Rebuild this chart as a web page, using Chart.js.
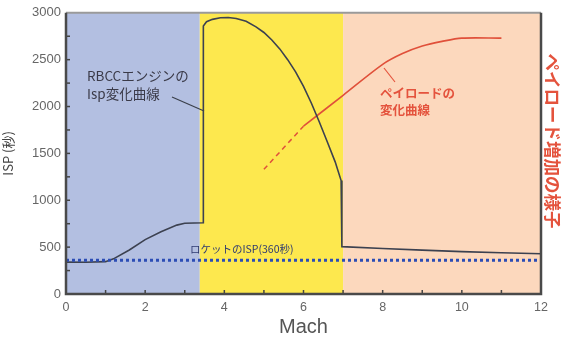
<!DOCTYPE html>
<html><head><meta charset="utf-8">
<script src="https://cdn.jsdelivr.net/npm/chart.js@4"></script>
<style>html,body{margin:0;padding:0;background:#fff}#w{width:564px;height:341px}</style>
</head><body><div id="w"><canvas id="c"></canvas></div>
<script>
const xTicks = [0, 2, 4, 6, 8, 10, 12];
const yTicks = [0, 500, 1000, 1500, 2000, 2500, 3000];
const bandStart = [0, 3.38, 7.0];
const bandEnd = [3.38, 7.0, 12];
const bandColor = ['#b3bfe1', '#fde84e', '#fcd8bd'];
const rbccMach = [0, 0.5, 1.0, 1.2, 1.6, 2.0, 2.4, 2.8, 3.0, 3.47, 3.47, 3.55, 3.7, 3.9, 4.1, 4.3, 4.55, 4.8, 5.0, 5.2, 5.4, 5.6, 5.8, 6.0, 6.2, 6.4, 6.6, 6.8, 6.95, 6.97, 8, 9, 10, 11, 12];
const rbccIsp = [340, 338, 345, 375, 470, 580, 665, 735, 755, 760, 2860, 2905, 2930, 2948, 2950, 2940, 2910, 2850, 2790, 2710, 2615, 2500, 2370, 2215, 2035, 1835, 1625, 1410, 1210, 505, 485, 468, 452, 440, 430];
const payloadDashMach = [5.0, 5.5, 6.0];
const payloadDashVal = [1330, 1560, 1790];
const payloadMach = [6.0, 7.0, 8.0, 8.5, 9.0, 9.5, 10.0, 11.0];
const payloadVal = [1790, 2120, 2450, 2565, 2645, 2695, 2730, 2730];
const rocketMach = [0, 12];
const rocketIsp = [360, 360];

const pts = (xs, ys) => xs.map((x, i) => ({x, y: ys[i]}));
const JP = '"Noto Sans CJK JP", "Liberation Sans", sans-serif';

const deco = {
  id: 'deco',
  beforeDatasetsDraw(chart) {
    const {ctx, chartArea: a, scales: {x, y}} = chart;
    ctx.save();
    bandStart.forEach((s, i) => {
      const x0 = x.getPixelForValue(s), x1 = x.getPixelForValue(bandEnd[i]);
      ctx.fillStyle = bandColor[i];
      ctx.fillRect(x0, a.top, x1 - x0, a.bottom - a.top);
    });
    ctx.restore();
  },
  afterDatasetsDraw(chart) {
    const {ctx, chartArea: a, scales: {x, y}} = chart;
    ctx.save();
    ctx.strokeStyle = '#444';
    ctx.lineWidth = 1.5;
    for (let v = 250; v < 3000; v += 250) {
      const py = y.getPixelForValue(v);
      ctx.beginPath(); ctx.moveTo(a.left, py); ctx.lineTo(a.left + 4, py); ctx.stroke();
    }
    for (let v = 1; v < 12; v += 1) {
      const px = x.getPixelForValue(v);
      ctx.beginPath(); ctx.moveTo(px, a.bottom); ctx.lineTo(px, a.bottom - 4); ctx.stroke();
    }
    ctx.strokeStyle = '#9a9a9a'; ctx.lineWidth = 2;
    ctx.beginPath(); ctx.moveTo(a.left, a.top); ctx.lineTo(a.right, a.top); ctx.stroke();
    ctx.strokeStyle = '#4a4a4a'; ctx.lineWidth = 2.5;
    ctx.beginPath(); ctx.moveTo(a.left, a.top); ctx.lineTo(a.left, a.bottom); ctx.lineTo(a.right, a.bottom); ctx.lineTo(a.right, a.top); ctx.stroke();
    ctx.textBaseline = 'middle';
    ctx.fillStyle = '#3a3a48';
    ctx.font = '13.5px ' + JP;
    ctx.fillText('RBCCエンジンの', 87, 76);
    ctx.fillText('Isp変化曲線', 87, 94);
    ctx.strokeStyle = '#3a3f4a'; ctx.lineWidth = 1.2;
    ctx.beginPath(); ctx.moveTo(172, 97); ctx.lineTo(204, 111); ctx.stroke();
    ctx.fillStyle = '#e4533d';
    ctx.font = 'bold 12.5px ' + JP;
    ctx.fillText('ペイロードの', 380, 93);
    ctx.fillText('変化曲線', 380, 110);
    ctx.strokeStyle = '#e4533d'; ctx.lineWidth = 1.2;
    ctx.beginPath(); ctx.moveTo(384, 68); ctx.lineTo(395, 82); ctx.stroke();
    ctx.fillStyle = '#2e3a70';
    ctx.font = '10.5px ' + JP;
    ctx.fillText('ロケットのISP(360秒)', 190, 249);
    ctx.save();
    ctx.translate(553, 141);
    ctx.rotate(Math.PI / 2);
    ctx.textAlign = 'center';
    ctx.fillStyle = '#e4533d';
    ctx.font = 'bold 17.5px ' + JP;
    ctx.fillText('ペイロード増加の様子', 0, 0);
    ctx.restore();
    ctx.restore();
  }
};

new Chart(document.getElementById('c'), {
  type: 'line',
  data: {
    datasets: [
      {data: pts(rocketMach, rocketIsp), borderColor: '#2c4db5', borderWidth: 3, borderDash: [3, 3], pointRadius: 0, tension: 0},
      {data: pts(rbccMach, rbccIsp), borderColor: '#3c4150', borderWidth: 1.6, pointRadius: 0, tension: 0},
      {data: pts(payloadDashMach, payloadDashVal), borderColor: '#e0503a', borderWidth: 1.5, borderDash: [5, 4], pointRadius: 0, tension: 0},
      {data: pts(payloadMach, payloadVal), borderColor: '#e0503a', borderWidth: 1.6, pointRadius: 0, tension: 0.3}
    ]
  },
  options: {
    responsive: true, maintainAspectRatio: false, animation: false,
    layout: {padding: {top: 7, right: 23, left: 0, bottom: 0}},
    plugins: {legend: {display: false}, tooltip: {enabled: false}},
    scales: {
      x: {
        type: 'linear', min: 0, max: 12,
        afterFit(s) { s.height = 47; },
        afterBuildTicks(s) { s.ticks = xTicks.map(v => ({value: v})); },
        grid: {display: false, drawTicks: false}, border: {display: false},
        ticks: {padding: 6, color: '#666', callback: v => String(v), font: {family: '"Liberation Sans", Arial, sans-serif', size: 12.5}},
        title: {display: true, text: 'Mach', color: '#555', padding: {top: 0, bottom: 2}, font: {family: '"Liberation Sans", Arial, sans-serif', size: 20}}
      },
      y: {
        min: 0, max: 3000,
        afterFit(s) { s.width = 66; },
        afterBuildTicks(s) { s.ticks = yTicks.map(v => ({value: v})); },
        grid: {display: false, drawTicks: false}, border: {display: false},
        ticks: {padding: 5, color: '#666', callback: v => String(v), font: {family: '"Liberation Sans", Arial, sans-serif', size: 13}},
        title: {display: true, text: 'ISP (秒)', color: '#444', padding: {top: 0, bottom: 0}, font: {family: JP, size: 13}}
      }
    }
  },
  plugins: [deco]
});
</script></body></html>
